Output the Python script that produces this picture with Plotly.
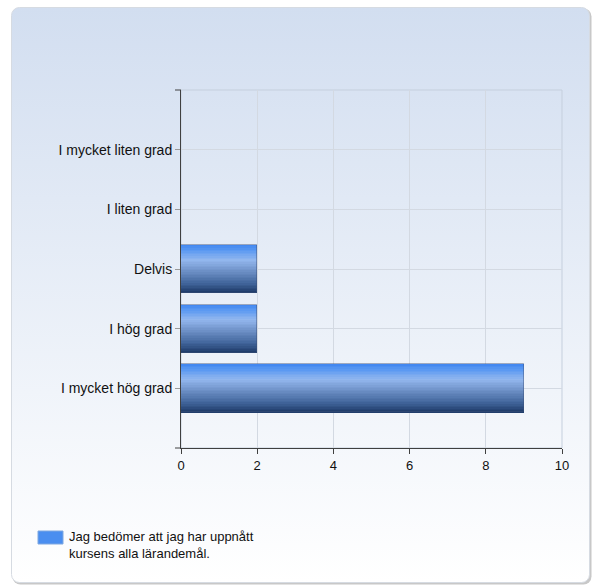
import plotly.graph_objects as go
import urllib.parse

categories = ["I mycket liten grad", "I liten grad", "Delvis", "I hög grad", "I mycket hög grad"]
values = [0, 0, 2, 2, 9]
series_name = "Jag bedömer att jag har uppnått<br>kursens alla lärandemål."
x_ticks = [0, 2, 4, 6, 8, 10]

W, H = 595, 588
L, R, T, B = 181, 33, 90, 140
PW, PH = W - L - R, H - T - B

# gradient stops for the bars (top -> bottom)
stops = [(0.0, (0x3f, 0x85, 0xf0)), (0.12, (0x5c, 0x9a, 0xf2)), (0.32, (0x93, 0xb7, 0xee)),
         (0.55, (0x6d, 0x90, 0xc6)), (0.8, (0x42, 0x66, 0x9c)), (1.0, (0x1e, 0x3a, 0x68))]

def grad(t):
    for (t0, c0), (t1, c1) in zip(stops, stops[1:]):
        if t <= t1:
            f = (t - t0) / (t1 - t0) if t1 > t0 else 0
            return "rgb(%d,%d,%d)" % tuple(round(a + (b - a) * f) for a, b in zip(c0, c1))
    return "rgb(%d,%d,%d)" % stops[-1][1]

fig = go.Figure()
bw = 0.8
N = 30
h = bw / N
for k in range(N):
    fig.add_trace(go.Bar(
        y=categories, x=values, orientation="h",
        width=h * 1.15, offset=bw / 2 - (k + 1) * h,
        marker=dict(color=grad((k + 0.5) / N), line=dict(width=0)),
        showlegend=False, hoverinfo="skip"))
# thin outline
fig.add_trace(go.Bar(
    y=categories, x=values, orientation="h", width=bw, offset=-bw / 2,
    marker=dict(color="rgba(0,0,0,0)", line=dict(width=1, color="rgba(60,80,120,0.45)")),
    showlegend=False, name=series_name))

# background panel as svg gradient
pw, ph = 581, 578
svg = (f'<svg xmlns="http://www.w3.org/2000/svg" width="{pw}" height="{ph}" viewBox="0 0 {pw} {ph}" preserveAspectRatio="none">'
       '<defs><linearGradient id="g" x1="0" y1="0" x2="0" y2="1">'
       '<stop offset="0" stop-color="#d2def0"/><stop offset="1" stop-color="#ffffff"/></linearGradient></defs>'
       f'<rect x="1.5" y="1.5" width="{pw-2}" height="{ph-2}" rx="8" ry="8" fill="#c8c8c8"/>'
       f'<rect x="0.5" y="0.5" width="{pw-3}" height="{ph-3}" rx="8" ry="8" fill="url(#g)" stroke="#d6dbe2" stroke-width="1"/>'
       '</svg>')
src = "data:image/svg+xml;charset=utf-8," + urllib.parse.quote(svg)

def px2x(px):
    return (px - L) / PW

def py2y(py):
    return (H - B - py) / PH

fig.add_layout_image(dict(
    source=src, xref="paper", yref="paper",
    x=px2x(11), y=py2y(7), sizex=pw / PW, sizey=ph / PH,
    xanchor="left", yanchor="top", sizing="stretch", layer="below"))

# plot area frame (light)
fig.add_shape(type="rect", xref="paper", yref="paper", x0=0, x1=1, y0=0, y1=1,
              line=dict(color="#c5cfdd", width=1), layer="below")
# small dark end ticks of the value axis frame
for yy in (0, 1):
    fig.add_shape(type="line", xref="paper", yref="paper", x0=px2x(175), x1=0, y0=yy, y1=yy,
                  line=dict(color="#404040", width=1))

# legend swatch + text
fig.add_shape(type="rect", xref="paper", yref="paper",
              x0=px2x(38), x1=px2x(63), y0=py2y(544), y1=py2y(531),
              fillcolor="#4a8ef0", line=dict(color="#7fa8e0", width=1))
fig.add_annotation(xref="paper", yref="paper", x=px2x(67), y=py2y(545),
                   xanchor="left", yanchor="middle", align="left", showarrow=False,
                   text=series_name, font=dict(size=13, color="#111"))

fig.update_layout(
    width=W, height=H, margin=dict(l=L, r=R, t=T, b=B, pad=0),
    paper_bgcolor="white", plot_bgcolor="rgba(0,0,0,0)",
    barmode="overlay", bargap=0,
    font=dict(family="Liberation Sans, Arial, sans-serif", size=13, color="#222"),
    showlegend=False,
)
fig.update_xaxes(range=[0, 10], tickvals=x_ticks, showgrid=True, gridcolor="#d3d9e2", gridwidth=1,
                 showline=True, linecolor="#404040", linewidth=1, ticks="outside", ticklen=5,
                 tickcolor="#404040", zeroline=False, fixedrange=True,
                 tickfont=dict(size=13, color="#111"))
fig.update_yaxes(type="category", categoryorder="array", categoryarray=categories[::-1],
                 range=[-1, 5], showgrid=True, gridcolor="#d3d9e2", gridwidth=1,
                 showline=True, linecolor="#404040", linewidth=1, ticks="outside", ticklen=5,
                 tickcolor="#999", ticklabelstandoff=0, zeroline=False, fixedrange=True,
                 tickfont=dict(size=14, color="#111"))

fig.write_html("out.html", config={"displayModeBar": False},
               post_script="document.body.style.margin='0';document.body.style.overflow='hidden';")
